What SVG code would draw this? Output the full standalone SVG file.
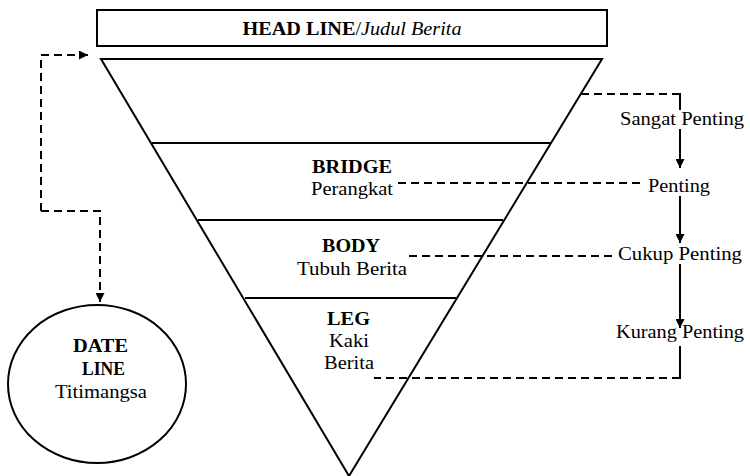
<svg xmlns="http://www.w3.org/2000/svg" width="750" height="476" viewBox="0 0 750 476">
<defs>
<marker id="ah" viewBox="0 0 10 10" refX="10" refY="5" markerWidth="9" markerHeight="9" markerUnits="userSpaceOnUse" orient="auto">
<path d="M0,0 L10,5 L0,10 Z" fill="#000"/>
</marker>
</defs>
<style>
text{font-family:"Liberation Serif","Times New Roman",serif;font-size:18.5px;fill:#000;text-anchor:middle}
.b{font-weight:bold}
.i{font-style:italic}
.s{fill:none;stroke:#000;stroke-width:2}
.d{fill:none;stroke:#000;stroke-width:2;stroke-dasharray:8,5}
</style>
<rect width="750" height="476" fill="#fff"/>
<g id="headline">
<rect class="s" x="97" y="10" width="510" height="36"/>
<text x="352" y="35" textLength="219" lengthAdjust="spacingAndGlyphs"><tspan class="b">HEAD LINE</tspan>/<tspan class="i">Judul Berita</tspan></text>
</g>
<g id="pyramid">
<path class="s" d="M101,59 L602,59 L349,476 Z"/>
<line class="s" x1="152" y1="143" x2="551" y2="143"/>
<line class="s" x1="198" y1="220" x2="503" y2="220"/>
<line class="s" x1="245" y1="298" x2="456" y2="298"/>
</g>
<g id="bridge">
<text x="352" y="173" class="b" textLength="80" lengthAdjust="spacingAndGlyphs">BRIDGE</text>
<text x="352" y="195" textLength="82" lengthAdjust="spacingAndGlyphs">Perangkat</text>
</g>
<g id="body">
<text x="351" y="252" class="b" textLength="58" lengthAdjust="spacingAndGlyphs">BODY</text>
<text x="352" y="275" textLength="110" lengthAdjust="spacingAndGlyphs">Tubuh Berita</text>
</g>
<g id="leg">
<text x="348.5" y="325" class="b" textLength="43" lengthAdjust="spacingAndGlyphs">LEG</text>
<text x="349" y="347" textLength="40" lengthAdjust="spacingAndGlyphs">Kaki</text>
<text x="349" y="369" textLength="50" lengthAdjust="spacingAndGlyphs">Berita</text>
</g>
<g id="dateline">
<ellipse class="s" cx="97" cy="384" rx="89" ry="79"/>
<text x="100.5" y="352" class="b" textLength="55" lengthAdjust="spacingAndGlyphs">DATE</text>
<text x="103.5" y="375" class="b" textLength="43" lengthAdjust="spacingAndGlyphs">LINE</text>
<text x="101" y="398" textLength="92" lengthAdjust="spacingAndGlyphs">Titimangsa</text>
</g>
<g id="sangat"><text x="682" y="125" textLength="124" lengthAdjust="spacingAndGlyphs">Sangat Penting</text></g>
<g id="penting"><text x="679" y="192" textLength="62" lengthAdjust="spacingAndGlyphs">Penting</text></g>
<g id="cukup"><text x="680" y="260" textLength="124" lengthAdjust="spacingAndGlyphs">Cukup Penting</text></g>
<g id="kurang"><text x="680" y="338" textLength="128" lengthAdjust="spacingAndGlyphs">Kurang Penting</text></g>
<g id="connectors">
<path class="d" d="M41,211 L41,55 L88,55" marker-end="url(#ah)"/>
<path class="d" d="M41,211 L100,211 L100,302" marker-end="url(#ah)"/>
<path class="d" d="M581,94 L680,94"/>
<line class="s" x1="680" y1="93" x2="680" y2="110"/>
<line class="s" x1="680" y1="129" x2="680" y2="168" marker-end="url(#ah)"/>
<path class="d" d="M398,183 L640,183"/>
<line class="s" x1="680" y1="196" x2="680" y2="243" marker-end="url(#ah)"/>
<path class="d" d="M409,256 L614,256"/>
<line class="s" x1="680" y1="264" x2="680" y2="328" marker-end="url(#ah)"/>
<line class="s" x1="680" y1="346" x2="680" y2="379"/>
<path class="d" d="M680,378 L374,378"/>
</g>
</svg>
